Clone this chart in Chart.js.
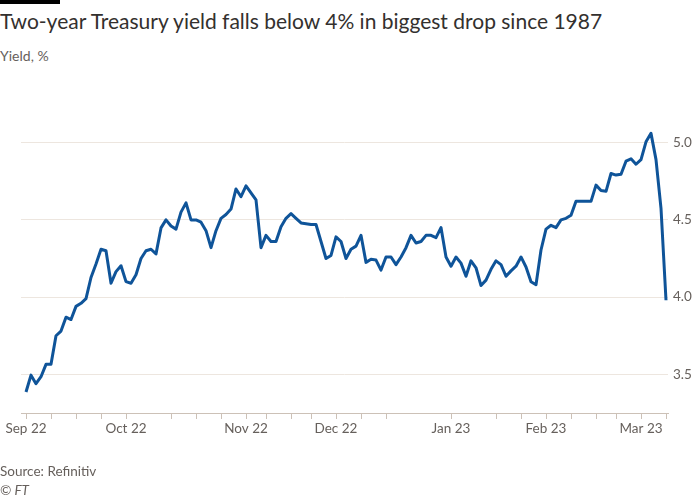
<!DOCTYPE html>
<html><head><meta charset="utf-8">
<script src="https://cdn.jsdelivr.net/npm/chart.js@4"></script>
<style>
body{margin:0;background:#fff;font-family:Lato,"Noto Sans",sans-serif;}
#wrap{position:relative;width:700px;height:500px;}
canvas{position:absolute;left:0;top:0;}
.t{position:absolute;left:0;color:#33302e;white-space:nowrap;}
#bar{position:absolute;left:0;top:0;width:60px;height:4px;background:#000;}
</style></head><body>
<div id="wrap">
<div id="bar"></div>
<div class="t" style="top:8px;font-size:21px;">Two-year Treasury yield falls below 4% in biggest drop since 1987</div>
<div class="t" style="top:47px;font-size:14px;color:#66605c;">Yield, %</div>
<canvas id="c" width="700" height="500"></canvas>
<div class="t" style="top:463px;font-size:13.5px;color:#66605c;">Source: Refinitiv</div>
<div class="t" style="top:482px;font-size:13.5px;color:#66605c;font-style:italic;">© FT</div>
</div>
<script>
const yields = [3.386,3.495,3.44,3.485,3.565,3.565,3.75,3.78,3.87,3.855,3.94,3.96,3.99,4.127,4.214,4.31,4.30,4.09,4.165,4.203,4.10,4.09,4.145,4.25,4.30,4.31,4.28,4.448,4.50,4.46,4.44,4.55,4.61,4.50,4.50,4.485,4.43,4.32,4.43,4.51,4.535,4.57,4.70,4.65,4.72,4.675,4.63,4.32,4.40,4.36,4.36,4.455,4.51,4.54,4.51,4.48,4.475,4.47,4.47,4.36,4.25,4.27,4.39,4.36,4.25,
4.31,4.33,4.40,4.225,4.245,4.24,4.175,4.26,4.26,4.21,4.26,4.32,4.40,4.35,4.36,4.40,4.40,4.385,4.45,4.26,4.20,4.26,4.22,4.135,4.235,4.19,4.075,4.11,4.18,4.235,4.21,4.135,4.17,4.20,4.26,4.195,4.10,4.08,4.305,4.44,4.465,4.45,4.50,4.51,4.53,4.62,4.62,4.62,4.62,4.725,4.69,4.685,4.80,4.79,4.795,4.88,4.895,4.86,4.89,5.005,5.06,4.89,4.575,3.98];
const monthIdx = [0,20,44,62,85,104,123];
const monthLabels = ["Sep 22","Oct 22","Nov 22","Dec 22","Jan 23","Feb 23","Mar 23"];
const weekIdx = [0,5,10,15,20,29,34,39,44,48,53,57,62,67,72,85,94,99,104,109,114,118,123,128];
const yTicks = [3.5,4.0,4.5,5.0];

new Chart(document.getElementById('c'),{
 type:'line',
 data:{datasets:[{data:yields.map((v,i)=>({x:i,y:v})),borderColor:'#0f5499',borderWidth:3,pointRadius:0,tension:0,borderJoinStyle:'round'}]},
 options:{responsive:false,animation:false,
  layout:{padding:{top:104,left:21,right:0,bottom:0}},
  plugins:{legend:{display:false},tooltip:{enabled:false}},
  scales:{
   x:{type:'linear',min:-1,max:128.4,
    afterBuildTicks:s=>{s.ticks=weekIdx.map(v=>({value:v}));},
    afterFit:s=>{s.height=87;},
    ticks:{autoSkip:false,maxRotation:0,color:'#66605c',font:{family:'Lato',size:13.5},padding:2,
      callback:v=>{const k=monthIdx.indexOf(v);return k>=0?monthLabels[k]:'';}},
    grid:{drawOnChartArea:false,drawTicks:true,tickLength:6,color:'#ccc1b7'},
    border:{color:'#ccc1b7'}},
   y:{position:'right',min:3.25,max:5.25,
    afterBuildTicks:s=>{s.ticks=yTicks.map(v=>({value:v}));},
    afterFit:s=>{s.width=32;},
    ticks:{color:'#66605c',font:{family:'Lato',size:13.5},padding:5,callback:v=>v.toFixed(1)},
    grid:{color:'#ede6df',drawTicks:false},
    border:{display:false}}
  }}
});
</script></body></html>
